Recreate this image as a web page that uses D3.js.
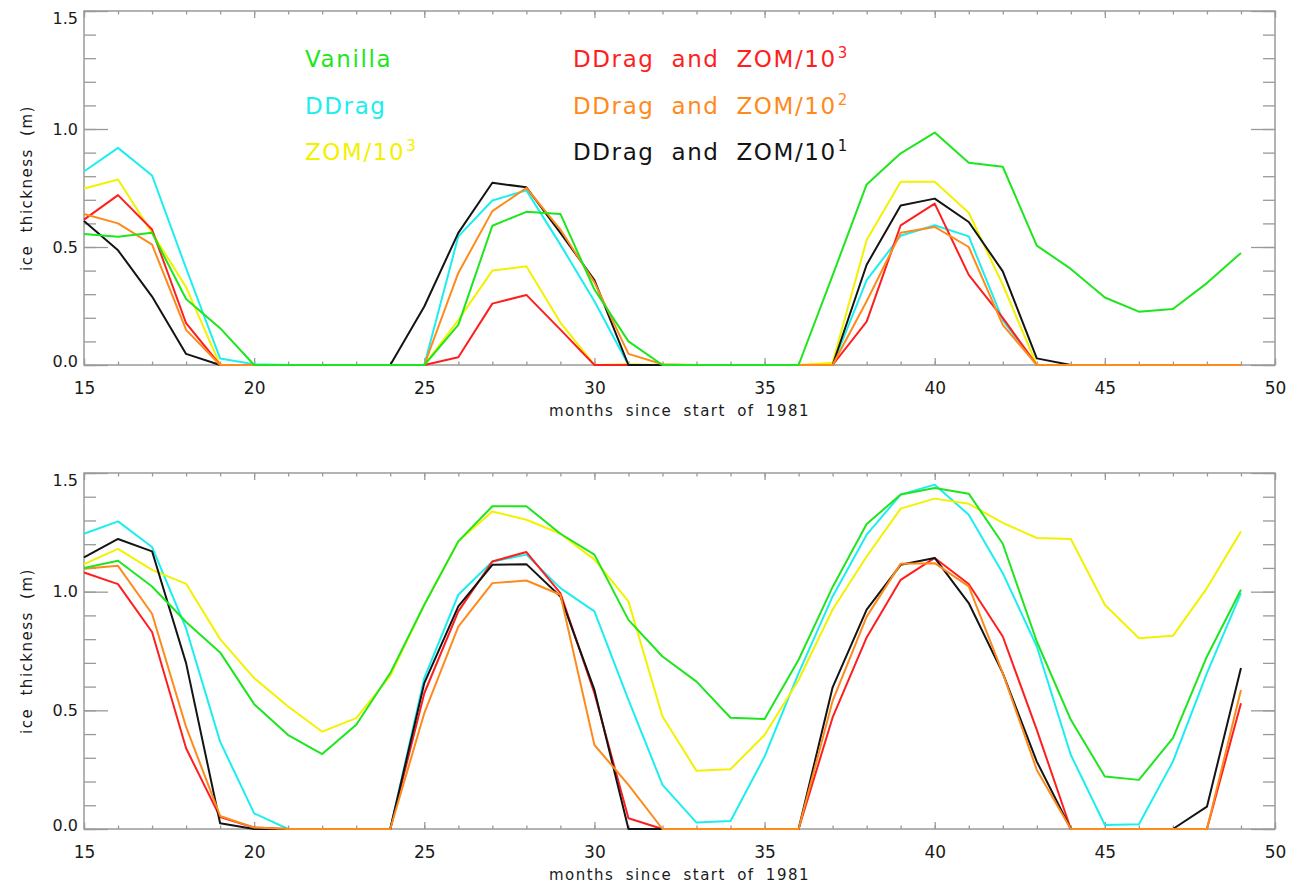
<!DOCTYPE html>
<html>
<head>
<meta charset="utf-8">
<script src="https://cdn.jsdelivr.net/npm/d3@7"></script>
<style>
    body { margin: 0; background: #fff; }
    svg { display: block; }
    text { font-family: "DejaVu Sans", sans-serif; fill: #1a1a1a; }
</style>
</head>
<body>
<svg id="chart" width="1300" height="884"></svg>
<script>
const months = d3.range(15, 50);

// top panel (months 15..49)
const topVanilla = [0.555, 0.543, 0.56, 0.28, 0.156, 0, 0, 0, 0, 0, 0, 0.17, 0.59, 0.649, 0.64, 0.32, 0.10, 0, 0, 0, 0, 0, 0.38, 0.765, 0.897, 0.985, 0.857, 0.84, 0.506, 0.407, 0.286, 0.226, 0.237, 0.347, 0.475];
const topDDrag = [0.82, 0.92, 0.803, 0.41, 0.028, 0.003, 0, 0, 0, 0, 0, 0.545, 0.697, 0.74, 0.51, 0.27, 0, 0, 0, 0, 0, 0, 0, 0.36, 0.548, 0.592, 0.545, 0.19, 0, 0, 0, 0, 0, 0, 0];
const topZ0m = [0.748, 0.786, 0.56, 0.33, 0, 0, 0, 0, 0, 0, 0, 0.19, 0.40, 0.418, 0.18, 0, 0.003, 0, 0, 0, 0, 0, 0.01, 0.53, 0.776, 0.776, 0.645, 0.34, 0, 0, 0, 0, 0, 0, 0];
const topDDragZ3 = [0.616, 0.72, 0.574, 0.177, 0, 0, 0, 0, 0, 0, 0, 0.033, 0.26, 0.297, 0.15, 0, 0, 0, 0, 0, 0, 0, 0, 0.184, 0.592, 0.684, 0.382, 0.20, 0, 0, 0, 0, 0, 0, 0];
const topDDragZ2 = [0.64, 0.60, 0.51, 0.149, 0, 0, 0, 0, 0, 0, 0, 0.39, 0.652, 0.75, 0.574, 0.35, 0.047, 0.003, 0, 0, 0, 0, 0, 0.27, 0.56, 0.585, 0.50, 0.17, 0, 0, 0, 0, 0, 0, 0];
const topDDragZ1 = [0.61, 0.486, 0.29, 0.047, 0, 0, 0, 0, 0, 0, 0.248, 0.56, 0.772, 0.753, 0.56, 0.36, 0, 0, 0, 0, 0, 0, 0, 0.425, 0.676, 0.705, 0.606, 0.397, 0.028, 0, 0, 0, 0, 0, 0];

// bottom panel (months 15..49)
const botVanilla = [1.10, 1.13, 1.022, 0.872, 0.744, 0.526, 0.396, 0.316, 0.439, 0.657, 0.945, 1.212, 1.36, 1.36, 1.244, 1.156, 0.881, 0.727, 0.621, 0.469, 0.463, 0.713, 1.02, 1.285, 1.409, 1.437, 1.413, 1.202, 0.79, 0.46, 0.221, 0.207, 0.383, 0.727, 1.008];
const botDDrag = [1.244, 1.296, 1.188, 0.845, 0.368, 0.066, 0, 0, 0, 0, 0.636, 0.987, 1.127, 1.156, 1.015, 0.917, 0.544, 0.186, 0.027, 0.034, 0.305, 0.657, 0.98, 1.24, 1.409, 1.451, 1.324, 1.078, 0.769, 0.312, 0.017, 0.02, 0.284, 0.657, 0.994];
const botZ0m = [1.116, 1.18, 1.092, 1.033, 0.80, 0.636, 0.516, 0.41, 0.467, 0.645, 0.945, 1.212, 1.338, 1.303, 1.244, 1.135, 0.959, 0.474, 0.245, 0.252, 0.396, 0.628, 0.925, 1.148, 1.35, 1.392, 1.37, 1.29, 1.226, 1.222, 0.945, 0.804, 0.814, 1.015, 1.254];
const botDDragZ3 = [1.081, 1.032, 0.83, 0.34, 0.05, 0.006, 0, 0, 0, 0, 0.572, 0.917, 1.127, 1.167, 0.994, 0.572, 0.045, 0, 0, 0, 0, 0, 0.47, 0.807, 1.05, 1.142, 1.032, 0.811, 0.418, 0, 0, 0, 0, 0, 0.53];
const botDDragZ2 = [1.097, 1.109, 0.907, 0.43, 0.055, 0.006, 0, 0, 0, 0, 0.488, 0.853, 1.036, 1.047, 0.987, 0.354, 0.186, 0, 0, 0, 0, 0, 0.54, 0.895, 1.118, 1.12, 1.022, 0.657, 0.249, 0, 0, 0, 0, 0, 0.586];
const botDDragZ1 = [1.144, 1.222, 1.17, 0.699, 0.024, 0, 0, 0, 0, 0, 0.615, 0.938, 1.113, 1.116, 0.98, 0.586, 0, 0, 0, 0, 0, 0, 0.597, 0.924, 1.113, 1.142, 0.952, 0.657, 0.284, 0, 0, 0, 0, 0.094, 0.678];

const seriesNames = ['Vanilla', 'DDrag', 'ZOM/10', 'DDrag and ZOM/10', 'DDrag and ZOM/10', 'DDrag and ZOM/10'];
const seriesSup = ['', '', '3', '3', '2', '1'];
const seriesColors = ['#1ee61e', '#1ceef0', '#f2f200', '#ff1e1e', '#ff8a1c', '#141414'];

const xTicks = [15, 20, 25, 30, 35, 40, 45, 50];
const yTicks = [0.0, 0.5, 1.0, 1.5];

const svg = d3.select('#chart');
const left = 84;
const right = 1275;

const x = d3.scaleLinear().domain([15, 50]).range([left, right]);

const panels = [
    { top: 11, bottom: 365, series: [topVanilla, topDDrag, topZ0m, topDDragZ3, topDDragZ2, topDDragZ1] },
    { top: 473, bottom: 829, series: [botVanilla, botDDrag, botZ0m, botDDragZ3, botDDragZ2, botDDragZ1] }
];

// draw order: green last so it sits on the zero line
const drawOrder = [1, 2, 3, 5, 4, 0];

panels.forEach((p) => {
    const y = d3.scaleLinear().domain([0, 1.5]).range([p.bottom, p.top]);
    const g = svg.append('g');
    const axisColor = '#9a9a9a';

    // x axes (ticks point inward)
    const xMinor = d3.range(15, 51);
    g.append('g').attr('transform', `translate(0,${p.bottom})`)
        .call(d3.axisBottom(x).tickValues(xMinor).tickSize(-3.5).tickFormat(''));
    g.append('g').attr('class', 'xlab').attr('transform', `translate(0,${p.bottom})`)
        .call(d3.axisBottom(x).tickValues(xTicks).tickSize(-7).tickPadding(17).tickFormat(d3.format('d')));
    g.append('g').attr('transform', `translate(0,${p.top})`)
        .call(d3.axisTop(x).tickValues(xMinor).tickSize(-3.5).tickFormat(''));
    g.append('g').attr('transform', `translate(0,${p.top})`)
        .call(d3.axisTop(x).tickValues(xTicks).tickSize(-7).tickFormat(''));

    // y axes
    const yMinor = d3.range(0, 16).map((i) => i / 10);
    g.append('g').attr('transform', `translate(${left},0)`)
        .call(d3.axisLeft(y).tickValues(yMinor).tickSize(-12).tickFormat(''));
    g.append('g').attr('class', 'ylab').attr('transform', `translate(${left},0)`)
        .call(d3.axisLeft(y).tickValues(yTicks).tickSize(-24).tickPadding(6).tickFormat(d3.format('.1f')));
    g.append('g').attr('transform', `translate(${right},0)`)
        .call(d3.axisRight(y).tickValues(yMinor).tickSize(-12).tickFormat(''));
    g.append('g').attr('transform', `translate(${right},0)`)
        .call(d3.axisRight(y).tickValues(yTicks).tickSize(-24).tickFormat(''));

    g.selectAll('.domain').remove();
    g.selectAll('.tick line').attr('stroke', axisColor).attr('stroke-width', 1.3);
    g.selectAll('.tick text')
        .attr('fill', '#1a1a1a')
        .style('font-family', '"DejaVu Sans", sans-serif');
    g.selectAll('.xlab .tick text').style('font-size', '17px');
    g.selectAll('.ylab .tick text').style('font-size', '16px');
    // keep end labels inside the frame like the original
    g.selectAll('.ylab .tick text').attr('dy', (d) => (d === 1.5 ? '0.8em' : d === 0 ? '0.1em' : '0.32em'));

    g.append('rect')
        .attr('x', left).attr('y', p.top)
        .attr('width', right - left).attr('height', p.bottom - p.top)
        .attr('fill', 'none').attr('stroke', axisColor).attr('stroke-width', 1.5);

    // titles
    g.append('text')
        .attr('x', (left + right) / 2).attr('y', p.bottom + 51)
        .attr('text-anchor', 'middle')
        .style('font-size', '15px').style('letter-spacing', '1.5px').style('word-spacing', '5px')
        .text('months since start of 1981');
    g.append('text')
        .attr('transform', `translate(32,${(p.top + p.bottom) / 2}) rotate(-90)`)
        .attr('text-anchor', 'middle')
        .style('font-size', '15px').style('letter-spacing', '1.5px').style('word-spacing', '6px')
        .text('ice thickness (m)');

    // lines
    const line = d3.line().x((d, i) => x(months[i])).y((d) => y(d));
    const lines = g.append('g');
    drawOrder.forEach((k) => {
        lines.append('path')
            .datum(p.series[k])
            .attr('d', line)
            .attr('fill', 'none')
            .attr('stroke', seriesColors[k])
            .attr('stroke-width', 2)
            .attr('stroke-linejoin', 'round');
    });
});

// legend in top panel
const legendX = [305, 305, 305, 573, 573, 573];
const legendY = [67, 113.5, 160, 67, 113.5, 160];
seriesNames.forEach((name, i) => {
    const t = svg.append('text')
        .attr('x', legendX[i]).attr('y', legendY[i])
        .style('font-size', '23px').style('letter-spacing', '1.6px').style('word-spacing', '8px')
        .style('fill', seriesColors[i])
        .text(name);
    if (seriesSup[i]) {
        t.append('tspan')
            .attr('dy', -9)
            .attr('dx', 1)
            .style('font-size', '15px')
            .text(seriesSup[i]);
    }
});
</script>
</body>
</html>
